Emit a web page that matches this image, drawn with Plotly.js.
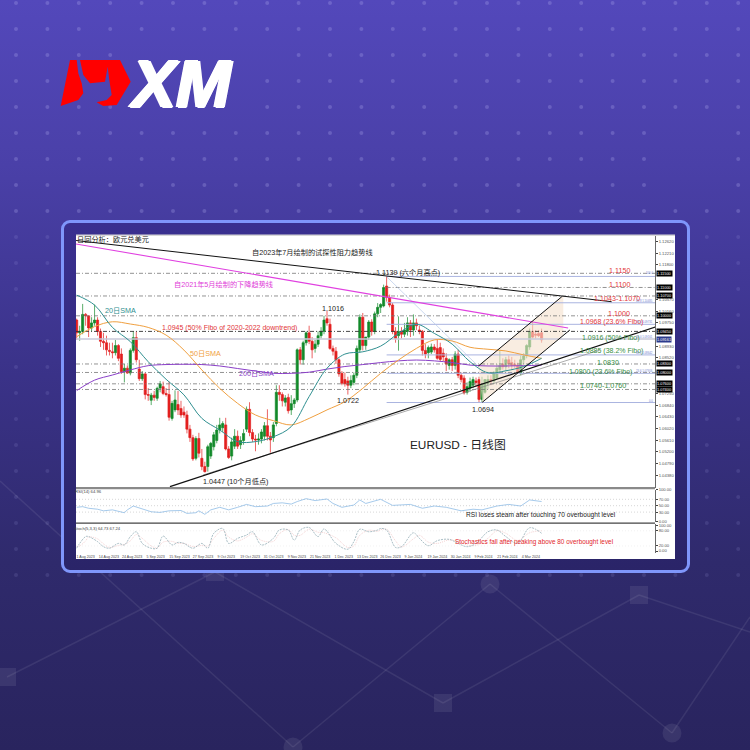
<!DOCTYPE html>
<html><head><meta charset="utf-8">
<script src="https://cdn.plot.ly/plotly-3.0.1.min.js"></script>
<style>
html,body{margin:0;padding:0;width:750px;height:750px;overflow:hidden;background:#2a2560}
#bg{position:absolute;left:0;top:0;width:750px;height:750px;background:linear-gradient(180deg,#5348bb 0%,#4a40a8 22%,#3a3288 50%,#2f2a6c 75%,#29245e 100%)}
#bgsvg{position:absolute;left:0;top:0}
#card{position:absolute;left:61px;top:220px;width:623px;height:347px;border:3px solid #7f96fb;border-radius:9px;background:linear-gradient(180deg,#3a3090,#2a2468)}
#sheet{position:absolute;left:76px;top:235px;width:599px;height:324px;background:#fff}
#plot{position:absolute;left:0;top:0;width:750px;height:750px}
</style></head><body>
<div id="bg"></div>
<svg id="bgsvg" width="750" height="750"></svg>
<div id="card"></div><div id="sheet"></div>
<div id="plot"></div>
<script>
// ---------- candles (one per trading day) ----------
const opens=[1.0985,1.0940,1.0945,1.1005,1.1000,1.0957,1.0975,1.0985,1.0945,1.0910,1.0905,1.0878,1.0873,1.0870,1.0895,1.0865,1.0803,1.0815,1.0798,1.0878,
1.0923,1.0812,1.0778,1.0795,1.0722,1.0702,1.0720,1.0709,1.0745,1.0750,1.0726,1.0722,1.0638,1.0668,1.0687,1.0673,1.0660,1.0650,1.0600,1.0570,
1.0497,1.0567,1.0497,1.0468,1.0468,1.0505,1.0538,1.0560,1.0597,1.0605,1.0615,1.0530,1.0505,1.0540,1.0575,1.0545,1.0560,1.0600,1.0670,1.0588,
1.0565,1.0562,1.0565,1.0575,1.0612,1.0575,1.0570,1.0620,1.0730,1.0722,1.0695,1.0712,1.0668,1.0690,1.0703,1.0880,1.0845,1.0905,1.0940,1.0910,
1.0885,1.0900,1.0930,1.0945,1.0990,1.0970,1.0885,1.0875,1.0845,1.0797,1.0775,1.0770,1.0755,1.0765,1.0790,1.0880,1.0995,1.0895,1.0925,1.0978,
1.0945,1.1007,1.1030,1.1035,1.1105,1.1065,1.1038,1.0945,1.0930,1.0945,1.0935,1.0945,1.0975,1.0950,1.0975,1.0950,1.0945,1.0878,1.0870,1.0872,
1.0890,1.0885,1.0888,1.0868,1.0850,1.0825,1.0845,1.0825,1.0865,1.0790,1.0780,1.0730,1.0745,1.0755,1.0770,1.0775,1.0705,1.0730,1.0760,1.0775,
1.0770,1.0780,1.0810,1.0830,1.0820,1.0845,1.0835,1.0830,1.0825,1.0800,1.0845,1.0860,1.0890,1.0945,1.0935,1.0938,1.0940];
const highs=[1.0990,1.0965,1.1042,1.1010,1.1000,1.0995,1.1040,1.0995,1.0955,1.0940,1.0930,1.0905,1.0905,1.0915,1.0900,1.0885,1.0830,1.0825,1.0885,1.0945,
1.0945,1.0845,1.0805,1.0800,1.0745,1.0728,1.0735,1.0750,1.0770,1.0768,1.0745,1.0768,1.0700,1.0737,1.0735,1.0700,1.0680,1.0665,1.0615,1.0580,
1.0575,1.0587,1.0530,1.0485,1.0545,1.0555,1.0590,1.0615,1.0640,1.0628,1.0640,1.0540,1.0570,1.0600,1.0595,1.0575,1.0600,1.0680,1.0695,1.0600,
1.0580,1.0585,1.0600,1.0625,1.0670,1.0590,1.0625,1.0755,1.0755,1.0730,1.0720,1.0725,1.0720,1.0710,1.0885,1.0890,1.0912,1.0945,1.0965,1.0925,
1.0915,1.0945,1.0960,1.1000,1.1017,1.0990,1.0895,1.0890,1.0850,1.0805,1.0800,1.0785,1.0790,1.0800,1.0895,1.1005,1.1010,1.0925,1.0985,1.0988,
1.1015,1.1045,1.1045,1.1110,1.1139,1.1075,1.1045,1.0960,1.0998,1.0960,1.0975,1.0995,1.0985,1.1005,1.0990,1.0965,1.0950,1.0900,1.0895,1.0902,
1.0900,1.0915,1.0905,1.0885,1.0868,1.0850,1.0855,1.0875,1.0880,1.0800,1.0790,1.0765,1.0782,1.0785,1.0782,1.0785,1.0785,1.0773,1.0790,1.0790,
1.0805,1.0830,1.0880,1.0850,1.0855,1.0860,1.0855,1.0845,1.0835,1.0860,1.0868,1.0900,1.0955,1.0980,1.0950,1.0950,1.0955];
const lows=[1.0915,1.0912,1.0935,1.0965,1.0925,1.0945,1.0965,1.0930,1.0890,1.0880,1.0860,1.0860,1.0850,1.0860,1.0840,1.0795,1.0765,1.0795,1.0790,1.0870,
1.0835,1.0770,1.0770,1.0705,1.0700,1.0685,1.0700,1.0700,1.0730,1.0720,1.0715,1.0630,1.0630,1.0660,1.0650,1.0640,1.0640,1.0585,1.0555,1.0488,
1.0490,1.0500,1.0455,1.0447,1.0450,1.0495,1.0525,1.0550,1.0585,1.0590,1.0525,1.0495,1.0490,1.0530,1.0530,1.0530,1.0545,1.0590,1.0575,1.0555,
1.0522,1.0545,1.0550,1.0560,1.0560,1.0517,1.0555,1.0610,1.0700,1.0680,1.0680,1.0655,1.0650,1.0675,1.0695,1.0828,1.0828,1.0895,1.0900,1.0850,
1.0870,1.0890,1.0920,1.0935,1.0965,1.0880,1.0860,1.0830,1.0785,1.0755,1.0750,1.0722,1.0745,1.0755,1.0780,1.0870,1.0878,1.0880,1.0915,1.0930,
1.0935,1.0995,1.1010,1.1030,1.1050,1.1030,1.0935,1.0905,1.0877,1.0920,1.0925,1.0930,1.0925,1.0930,1.0950,1.0935,1.0860,1.0850,1.0850,1.0865,
1.0870,1.0845,1.0840,1.0840,1.0805,1.0810,1.0805,1.0810,1.0780,1.0765,1.0722,1.0722,1.0732,1.0745,1.0750,1.0694,1.0695,1.0725,1.0740,1.0755,
1.0760,1.0775,1.0800,1.0810,1.0805,1.0815,1.0810,1.0815,1.0795,1.0790,1.0830,1.0850,1.0880,1.0920,1.0920,1.0925,1.0905];
const closes=[1.0940,1.0945,1.1005,1.1000,1.0957,1.0975,1.0985,1.0945,1.0910,1.0905,1.0880,1.0875,1.0870,1.0895,1.0850,1.0803,1.0815,1.0798,1.0878,1.0923,
1.0845,1.0778,1.0795,1.0722,1.0720,1.0720,1.0712,1.0744,1.0760,1.0726,1.0722,1.0642,1.0691,1.0703,1.0668,1.0650,1.0650,1.0600,1.0570,1.0495,
1.0567,1.0515,1.0468,1.0450,1.0538,1.0550,1.0580,1.0597,1.0615,1.0620,1.0530,1.0500,1.0555,1.0575,1.0540,1.0560,1.0585,1.0670,1.0588,1.0565,
1.0562,1.0565,1.0590,1.0612,1.0575,1.0562,1.0615,1.0730,1.0722,1.0700,1.0710,1.0665,1.0690,1.0703,1.0880,1.0845,1.0905,1.0940,1.0910,1.0880,
1.0900,1.0930,1.0945,1.0985,1.0975,1.0885,1.0875,1.0845,1.0795,1.0762,1.0760,1.0755,1.0772,1.0790,1.0885,1.0995,1.0895,1.0925,1.0978,1.0945,
1.1007,1.1030,1.1040,1.1100,1.1065,1.1038,1.0945,1.0920,1.0945,1.0935,1.0950,1.0975,1.0950,1.0975,1.0965,1.0945,1.0878,1.0865,1.0888,1.0890,
1.0880,1.0850,1.0846,1.0855,1.0830,1.0845,1.0825,1.0865,1.0790,1.0775,1.0728,1.0750,1.0768,1.0775,1.0765,1.0705,1.0760,1.0775,1.0775,1.0770,
1.0797,1.0815,1.0825,1.0820,1.0845,1.0830,1.0825,1.0825,1.0800,1.0845,1.0858,1.0895,1.0945,1.0925,1.0932,1.0930,1.0915];
// ---------- moving averages ----------
const smaIdx=[0,6,12,18,24,30,36,42,48,54,60,66,72,78,84,90,96,102,108,114,120,126,132,138,144,150,156];
const sma20=[1.1073,1.1038,1.0959,1.0909,1.0838,1.0776,1.0721,1.0638,1.0597,1.0556,1.0556,1.0573,1.0609,1.0715,1.0815,1.0865,1.0873,1.0893,1.0938,1.0970,1.0938,1.0900,1.0838,1.0799,1.0806,1.0821,1.0850];
const sma50=[1.0926,1.0962,1.0979,1.0971,1.0959,1.0932,1.0879,1.0809,1.0744,1.0691,1.0650,1.0630,1.0615,1.0638,1.0668,1.0697,1.0744,1.0797,1.0844,1.0885,1.0915,1.0911,1.0889,1.0882,1.0876,1.0862,1.0850];
const sma200=[1.0736,1.0773,1.0791,1.0809,1.0824,1.0828,1.0829,1.0828,1.0823,1.0814,1.0805,1.0797,1.0797,1.0801,1.0812,1.0821,1.0828,1.0835,1.0841,1.0844,1.0841,1.0835,1.0826,1.0823,1.0823,1.0824,1.0826];
// ---------- oscillators ----------
const rsiIdx=[0,2,4,7,9,12,16,17,19,22,25,28,31,35,37,40,41,43,45,48,51,54,57,60,64,66,69,72,74,77,80,84,86,89,93,95,97,102,106,112,116,120,124,129,133,136,141,145,149,152,156];
const rsiVal=[45,47,42,39,34,37,28,37,49,39,31,29,34,35,26,28,34,23,37,45,37,45,54,47,49,57,59,55,63,72,66,71,57,45,52,68,57,70,51,54,42,49,45,34,39,37,49,54,49,68,63];
const stochIdx=[0,1,3,4,7,9,11,14,16,18,20,22,25,27,29,32,34,36,39,42,44,46,49,51,54,57,59,62,66,68,71,73,75,78,81,83,87,91,93,95,98,101,102,104,107,109,113,115,118,121,125,128,131,134,138,141,144,148,152,156];
const stochMain=[11,30,57,57,37,17,11,30,24,57,76,30,11,11,59,24,34,30,11,30,11,70,89,30,50,63,76,24,50,83,83,43,83,93,57,87,30,7,37,86,76,83,89,83,14,17,72,50,21,41,46,30,17,30,76,83,57,30,92,70];
const stochSig=[18,20,40,55,48,28,14,22,26,40,65,50,20,12,35,38,30,30,18,22,20,50,82,55,40,55,68,42,38,68,85,62,62,86,74,72,52,14,20,62,82,78,84,86,40,16,48,62,35,30,44,38,24,22,50,80,70,42,72,80];
// ---------- levels and trendlines ----------
const dashLevels=[1.1150,1.1070,1.1000,1.0830,1.0800,1.0760,1.0740];
const keyLevel=1.0945, lateLevel=1.1100, lateStart=104;
const fibLevels=[1.1139,1.1046,1.0970,1.0862,1.0797,1.0694], fibStart=104, fullFib=1.0918;
const resistance={x:[-0.2,179.5],y:[1.12658,1.10498]};
const downtrend={x:[-0.3,164.9],y:[1.12535,1.09570]};
const support={x:[31.3,194.6],y:[1.0397,1.09616]};
const supportThin={x:[42.4,175.6],y:[1.04382,1.08794]};
const chanUp={x:[134.8,162.8],y:[1.08229,1.10675]};
const chanLow={x:[136.1,165.5],y:[1.06948,1.09500]};
const shade={x:[134.8,162.8,163.3,163.3,136.1],y:[1.08229,1.10675,1.10675,1.0931,1.06948]};
const fibDiag={x:[104,134.7],y:[1.11381,1.08229]};
// ---------- axis labels ----------
const priceTicks=[1.1262,1.1221,1.1180,1.1057,1.1016,1.0975,1.0893,1.0852,1.0725,1.0684,1.0643,1.0602,1.0561,1.0520,1.0479,1.0438];
const boxValues=[1.1150,1.1100,1.1070,1.1000,1.0945,1.0830,1.0800,1.0760,1.0740];
const dateLabels=['1 Aug 2023','14 Aug 2023','24 Aug 2023','5 Sep 2023','15 Sep 2023','27 Sep 2023','9 Oct 2023','19 Oct 2023','31 Oct 2023','9 Nov 2023','21 Nov 2023','1 Dec 2023','13 Dec 2023','26 Dec 2023','9 Jan 2024','19 Jan 2024','30 Jan 2024','9 Feb 2024','21 Feb 2024','4 Mar 2024'];
const datePos=[3,10.8,18.6,26.5,34.5,42.4,50.2,58.2,66.1,73.9,81.7,89.6,97.5,105.3,113,121,128.8,136.5,144.5,152.4];

const FONT='"Liberation Sans","Noto Sans CJK SC",sans-serif';
const W=750;
const px=v=>v/W, py=v=>1-v/W;
const line=(d,color,width,dash,y)=>({type:'scatter',mode:'lines',x:d.x,y:d.y,xaxis:'x',yaxis:y||'y',line:{color,width,dash:dash||'solid'},hoverinfo:'skip',showlegend:false,cliponaxis:true});
const hl=(v,from,color,width,dash,y,to)=>line({x:[from,to===undefined?194.1:to],y:[v,v]},color,width,dash,y);

const traces=[];
traces.push({type:'scatter',mode:'none',x:shade.x,y:shade.y,fill:'toself',fillcolor:'rgba(246,226,206,0.62)',hoverinfo:'skip',showlegend:false,xaxis:'x',yaxis:'y'});
dashLevels.forEach(v=>traces.push(hl(v,-0.23,'#777',0.8,'4px,2px,1px,2px')));
traces.push(hl(lateLevel,lateStart,'#777',0.8,'4px,2px,1px,2px'));
traces.push(hl(keyLevel,-0.23,'#333',0.9,'4px,2px,1px,2px'));
fibLevels.forEach(v=>traces.push(hl(v,fibStart,'#aab4e0',1)));
traces.push(hl(fullFib,-0.23,'#c8c8d8',1.4));
traces.push(line(fibDiag,'#b4c8ea',0.7));
traces.push({type:'candlestick',x:opens.map((_,i)=>i),open:opens,high:highs,low:lows,close:closes,xaxis:'x',yaxis:'y',
 increasing:{line:{color:'#128a2a',width:0.7},fillcolor:'#128a2a'},decreasing:{line:{color:'#e3201f',width:0.7},fillcolor:'#e3201f'},
 whiskerwidth:0,hoverinfo:'skip',showlegend:false});
traces.push(line({x:smaIdx,y:sma200},'#8a3fc8',1));
traces.push(line({x:smaIdx,y:sma50},'#f0a040',1));
traces.push(line({x:smaIdx,y:sma20},'#2f8f90',1));
traces[traces.length-1].line.shape='spline';traces[traces.length-2].line.shape='spline';traces[traces.length-3].line.shape='spline';
traces.push(line(supportThin,'#888',0.7));
traces.push(line(downtrend,'#e040e0',1.1));
traces.push(line(resistance,'#111',1));
traces.push(line(support,'#111',1.2));
traces.push(line(chanUp,'#111',1));
traces.push(line(chanLow,'#111',1));
[70,50,30].forEach(v=>traces.push(hl(v,-0.23,'#bbb',0.6,'1px,2px','y2')));
traces.push(line({x:rsiIdx,y:rsiVal},'#8fbde6',0.8,null,'y2'));
[80,20].forEach(v=>traces.push(hl(v,-0.23,'#e4e4e4',0.5,'1px,2px','y3')));
traces.push(line({x:stochIdx,y:stochSig},'#ecb5b5',0.6,'1px,1px','y3'));
traces.push(line({x:stochIdx,y:stochMain},'#86a3ad',0.7,'2px,1px','y3'));
traces[traces.length-1].line.shape='spline';traces[traces.length-2].line.shape='spline';

const anns=[];
const T=(text,x,y,color,size,extra)=>anns.push(Object.assign({text,x:px(x),y:py(y),xref:'paper',yref:'paper',xanchor:'center',yanchor:'middle',showarrow:false,font:{family:FONT,size,color}},extra||{}));
const RED='#e2353a',GRN='#3a8f46',DK='#222';
T('日回分析：欧元兑美元',113,239,DK,7.2);
T('自2023年7月绘制的试探性阻力趋势线',312,252.7,DK,7.2);
T('自2021年5月绘制的下降趋势线',223,284,'#e040d8',7.2);
T('20日SMA',120,310,'#2f8f90',7.2);
T('1.1016',332.5,308,DK,7.2);
T('1.0945 (50% Fibo of 2020-2022 downtrend)',229,328,RED,7);
T('50日SMA',205,353,'#f0a040',7.2);
T('200日SMA',256.5,374,'#8a3fc8',7.2);
T('1.0722',347.5,400,DK,7.2);
T('1.0447 (10个月低点)',235.5,481.7,DK,7.2);
T('1.1139 (六个月高点)',407.5,272.7,DK,7.2);
T('1.1150',619,271,RED,7.2);
T('1.1100',619,284.7,RED,7.2);
T('1.1043-1.1070',617,298,RED,7.2);
T('1.1000',619,313,RED,7.2);
T('1.0968 (23.6% Fibo)',611,322,RED,7);
T('1.0916 (50% Fibo)',611,337.7,GRN,7);
T('1.0885 (38.2% Fibo)',611,351,GRN,7);
T('1.0830',608,362,GRN,7.2);
T('1.0800 (23.6% Fibo)',600,371.7,GRN,7);
T('1.0740-1.0760',602.5,385,GRN,7.2);
T('1.0694',482.5,409,DK,7.2);
T('EURUSD - 日线图',458.5,445,'#222',11.8);
T('RSI loses steam after touching 70 overbought level',541,515,'#222',6.6);
T('Stochastics fall after peaking above 80 overbought level',533.5,542,'#e2252a',6.4);
T('RSI(14) 64.96',88,491.5,'#444',4.2);
T('Stoch(5,3,3) 64.73 67.24',97,528,'#444',4.2);
anns.push({text:'<b><i>XM</i></b>',x:px(180),y:py(84),xref:'paper',yref:'paper',xanchor:'center',yanchor:'middle',showarrow:false,
 font:{family:'"Liberation Sans",sans-serif',size:66,color:'#fff',shadow:'1.6px 0 0 #fff,-1.6px 0 0 #fff,0.8px 0.8px 0 #fff,-0.8px -0.8px 0 #fff'}});
// fib tags on the price axis
const BLU='#6f80d0';
[['100.0',273],['61.8 1.10485',301],['76.4 1.09731',322],['50.0 1.09161',337],['38.2 1.08642',352.7],['23.6 1.07916',370.7],['0.0',401]].forEach(a=>T(a[0],654.5,a[1],BLU,2.8,{xanchor:'right'}));
// boxed values on the price axis
const boxFont={family:FONT,size:3.9,color:'#fff'};
boxValues.forEach(v=>anns.push({text:v.toFixed(5),x:664/W,xref:'paper',y:v,yref:'y',xanchor:'center',yanchor:'middle',showarrow:false,bgcolor:'#000',borderpad:0,font:boxFont}));
anns.push({text:'1.09161',x:664/W,xref:'paper',y:1.0916,yref:'y',xanchor:'center',yanchor:'middle',showarrow:false,bgcolor:'#2b3a8c',borderpad:0,font:boxFont});

const poly=pts=>'M'+pts.map(p=>px(p[0])+','+py(p[1])).join('L')+'Z';
const shapes=[
 {type:'path',xref:'paper',yref:'paper',line:{width:0},fillcolor:'#ff0000',path:poly([[70,60],[60.7,106],[78.3,100],[83.3,93.3],[81.7,83.3],[78.3,73.3],[76.7,60]])},
 {type:'path',xref:'paper',yref:'paper',line:{width:0},fillcolor:'#ff0000',path:poly([[80,60],[120,60],[130.7,81.7],[116.7,105],[103.3,106],[96.7,102.3],[106.7,100],[111.7,95],[109.3,80],[107.7,66.7],[105,81.7],[90,83.3],[83.3,75]])},
 {type:'rect',xref:'paper',yref:'paper',x0:px(76),x1:px(655),y0:py(487),y1:py(489.2),line:{width:0},fillcolor:'#8a8a8a'},
 {type:'rect',xref:'paper',yref:'paper',x0:px(76),x1:px(655),y0:py(522.6),y1:py(523.8),line:{width:0},fillcolor:'#444'},
 {type:'rect',xref:'paper',yref:'paper',x0:px(76),x1:px(675),y0:py(234.5),y1:py(236),line:{width:0},fillcolor:'#d8d8d8'}
];

const tf={family:FONT,size:4.2,color:'#555'};
const layout={width:750,height:750,margin:{l:0,r:0,t:0,b:0},paper_bgcolor:'rgba(0,0,0,0)',plot_bgcolor:'rgba(0,0,0,0)',showlegend:false,
 boxgap:0.15,boxgroupgap:0.15,dragmode:false,
 xaxis:{domain:[px(76),px(655)],range:[-0.23,194.06],anchor:'y3',rangeslider:{visible:false},showgrid:false,zeroline:false,tickmode:'array',tickvals:datePos,ticktext:dateLabels,tickangle:0,tickfont:{family:FONT,size:3.6,color:'#444'},ticks:'',ticklen:0,showline:false},
 yaxis:{domain:[py(488),py(236)],range:[1.03923,1.12817],side:'right',anchor:'x',showgrid:false,zeroline:false,tickmode:'array',tickvals:priceTicks,tickformat:'.5f',tickfont:tf,ticks:'outside',ticklen:2,tickcolor:'#444',showline:true,linecolor:'#444',linewidth:0.8},
 yaxis2:{domain:[py(521.7),py(489.7)],range:[0,100],side:'right',anchor:'x',showgrid:false,zeroline:false,tickmode:'array',tickvals:[100,70,50,30,0],ticktext:['100.00','70.00','50.00','30.00','0.00'],tickfont:tf,ticks:'outside',ticklen:2,tickcolor:'#444',showline:true,linecolor:'#444',linewidth:0.8},
 yaxis3:{domain:[py(553),py(524)],range:[-7.9,106.7],side:'right',anchor:'x',showgrid:false,zeroline:false,tickmode:'array',tickvals:[100,80,20,0],ticktext:['100.00','80.00','20.00','0.00'],tickfont:tf,ticks:'outside',ticklen:2,tickcolor:'#444',showline:true,linecolor:'#444',linewidth:0.8},
 annotations:anns,shapes:shapes};
Plotly.newPlot('plot',traces,layout,{displayModeBar:false,staticPlot:true});

// ---------- page decoration ----------
const svg=document.getElementById('bgsvg');
const NS='http://www.w3.org/2000/svg';
const add=(n,a)=>{const e=document.createElementNS(NS,n);for(const k in a)e.setAttribute(k,a[k]);svg.appendChild(e);};
const skips=[[50,60,120,290],[76,86,60,260],[76,86,400,445],[102,112,120,260],[102,112,490,540],[128,190,650,720]];
for(let r=0;r<23;r++){const y=3+26*r;for(let c=0;c<24;c++){const x=16+31.4*c;
 if(skips.some(s=>y>=s[0]&&y<=s[1]&&x>=s[2]&&x<=s[3]))continue;
 add('circle',{cx:x,cy:y,r:2,fill:'#b9b6f5',opacity:y<215?0.26:0.13});}}
const nodes=[[7,677,'s'],[215,572,'s'],[293,747,'c'],[443,703,'s'],[490,584,'c'],[639,595,'s'],[672,733,'c']];
const links=[[0,481,293,747],[7,677,215,572],[215,572,443,703],[293,747,490,584],[443,703,639,595],[490,584,672,733],[672,733,750,617],[639,595,750,632]];
links.forEach(l=>add('line',{x1:l[0],y1:l[1],x2:l[2],y2:l[3],stroke:'#fff','stroke-opacity':0.08,'stroke-width':1.5}));
nodes.forEach(n=>{if(n[2]==='s')add('rect',{x:n[0]-9,y:n[1]-9,width:18,height:18,fill:'#fff','fill-opacity':0.08});else add('circle',{cx:n[0],cy:n[1],r:9.5,fill:'#fff','fill-opacity':0.08});});
</script>
</body></html>
